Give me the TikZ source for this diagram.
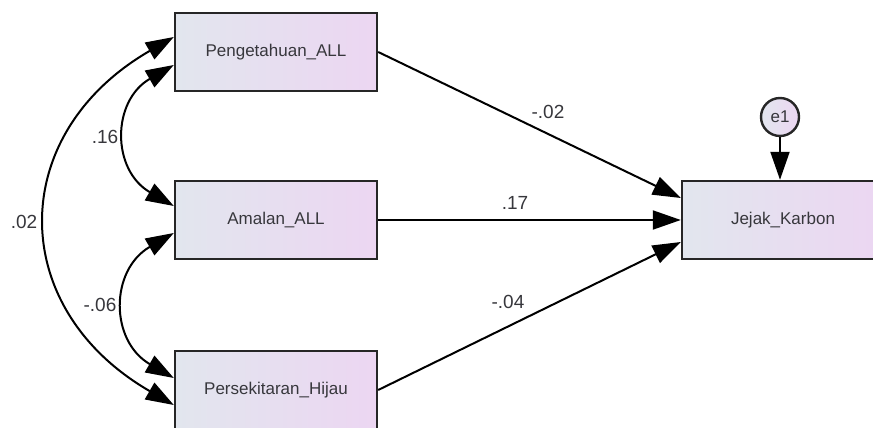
\documentclass[tikz,border=0pt]{standalone}
\usepackage{fontspec}
\setmainfont{Liberation Sans}
\usetikzlibrary{arrows.meta}
\definecolor{boxleft}{RGB}{226,230,238}
\definecolor{boxright}{RGB}{236,214,242}
\definecolor{txt}{RGB}{55,55,60}
\begin{document}
\begin{tikzpicture}[x=0.5pt,y=0.5pt,
  font=\fontsize{8.5}{10}\selectfont,
  var/.style={draw=black!85,line width=1.2pt,left color=boxleft,right color=boxright,
    minimum width=101pt,minimum height=39pt,inner sep=0pt,text=txt},
  err/.style={circle,draw=black!85,line width=1.2pt,left color=boxleft,right color=boxright,
    minimum size=19pt,inner sep=0pt,text=txt},
  path/.style={line width=1pt,-{Triangle[length=14pt,width=9.5pt]}},
  cov/.style={line width=1pt,{Triangle[length=14pt,width=9.5pt]}-{Triangle[length=14pt,width=9.5pt]}},
  coef/.style={text=txt,inner sep=1pt,font=\fontsize{9.5}{11}\selectfont}]
\useasboundingbox (0,0) rectangle (873,428);
\node[var] (peng) at (276,376) {Pengetahuan\_ALL};
\node[var] (amal) at (276,208) {Amalan\_ALL};
\node[var] (pers) at (276,38) {Persekitaran\_Hijau};
\node[var] (jejak) at (783,208) {Jejak\_Karbon};
\node[err] (e1) at (780,311) {e1};
\draw[path] (peng.east) -- ([yshift=11pt]jejak.west);
\draw[path] (amal.east) -- (jejak.west);
\draw[path] (pers.east) -- ([yshift=-11pt]jejak.west);
\draw[path] (e1) -- (jejak.north -| e1);
\draw[cov] ([yshift=-6.5pt]peng.west) to[out=210,in=150,looseness=1.31] ([yshift=7pt]amal.west);
\draw[cov] ([yshift=-6.5pt]amal.west) to[out=210,in=150,looseness=1.31] ([yshift=6pt]pers.west);
\draw[cov] ([yshift=7.5pt]peng.west) to[out=210,in=150,looseness=1.35] ([yshift=-7.5pt]pers.west);
\node[coef] (c1) at (548,316) {-.02};
\node[coef] (c2) at (515,225) {.17};
\node[coef] (c3) at (508,126) {-.04};
\node[coef] (c4) at (105,291) {.16};
\node[coef] (c5) at (24,206) {.02};
\node[coef] (c6) at (100,123) {-.06};
\end{tikzpicture}
\end{document}
